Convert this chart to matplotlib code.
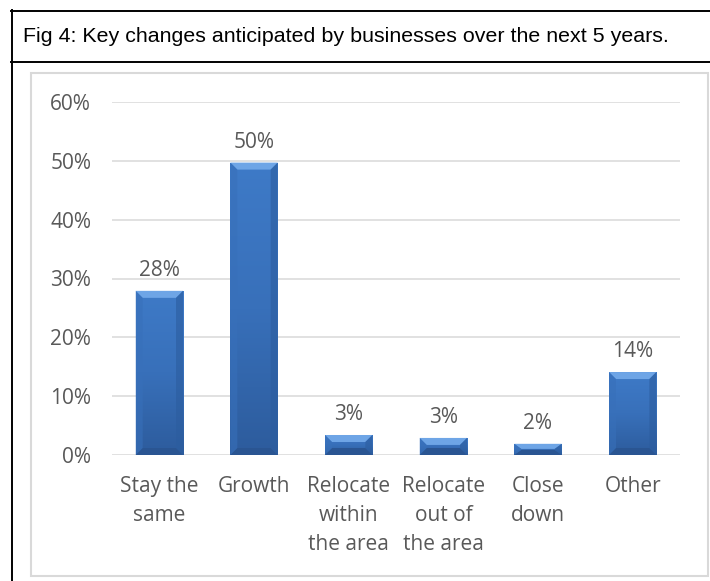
import numpy as np
import matplotlib
matplotlib.use("Agg")
import matplotlib.pyplot as plt
from matplotlib.lines import Line2D
from matplotlib.patches import Rectangle, Polygon

# Survey results: key changes anticipated by businesses over the next 5 years
categories = ["Stay the\nsame", "Growth", "Relocate\nwithin\nthe area",
              "Relocate\nout of\nthe area", "Close\ndown", "Other"]
shares = [0.279, 0.497, 0.034, 0.029, 0.019, 0.141]
y_ticks = [0.0, 0.1, 0.2, 0.3, 0.4, 0.5, 0.6]
title = "Fig 4: Key changes anticipated by businesses over the next 5 years."

W, H = 710, 581
fig = plt.figure(figsize=(W / 100, H / 100), dpi=100)
fig.patch.set_facecolor("white")


def fx(px):
    return px / W


def fy(py):
    return 1 - py / H


# Frame: black outline with a title row, grey chart box inside
black = dict(color="black", lw=1.4, transform=fig.transFigure)
fig.add_artist(Line2D([fx(11.5), fx(11.5)], [fy(10), fy(581)], **black))
fig.add_artist(Line2D([fx(11), fx(710)], [fy(10.5), fy(10.5)], **black))
fig.add_artist(Line2D([fx(11), fx(710)], [fy(62), fy(62)], **black))
fig.add_artist(Rectangle((fx(31), fy(576)), fx(708) - fx(31), fy(73) - fy(576),
                         transform=fig.transFigure, fill=False,
                         edgecolor="#D9D9D9", lw=1.5))
fig.text(fx(23), fy(37), title, family="Liberation Sans", fontsize=15.4,
         color="black", ha="left", va="center")

text_color = "#595959"
font = "Open Sans"
fs = 15

ax = fig.add_axes([fx(112), fy(455), fx(680) - fx(112), fy(102) - fy(455)])
ax.set_facecolor("none")
ax.set_xlim(-0.5, len(categories) - 0.5)
ax.set_ylim(0, 0.6)
for s in ax.spines.values():
    s.set_visible(False)
ax.set_yticks(y_ticks)
ax.set_yticklabels([f"{t:.0%}" for t in y_ticks], family=font, fontsize=fs,
                   color=text_color)
ax.yaxis.grid(True, color="#D9D9D9", lw=1.1)
ax.set_axisbelow(True)
ax.tick_params(axis="y", length=0, pad=15)
x = np.arange(len(categories))
ax.set_xticks(x)
ax.set_xticklabels(categories, family=font, fontsize=fs, color=text_color,
                   linespacing=1.5)
ax.tick_params(axis="x", length=0, pad=15)

bar_w = 0.5
bars = ax.bar(x, shares, width=bar_w, color="#3B74BF", zorder=2)

fig.canvas.draw()
inv = ax.transData.inverted()
o = inv.transform((0, 0))
px_x = inv.transform((1, 0))[0] - o[0]
px_y = inv.transform((0, 1))[1] - o[1]

# vertical shading used for each bar body
grad = np.linspace(0, 1, 64).reshape(-1, 1)
cmap = matplotlib.colors.LinearSegmentedColormap.from_list(
    "bar", ["#2D5C9D", "#3870BA", "#3E7AC7"])

for b, v in zip(bars, shares):
    x0, x1 = b.get_x(), b.get_x() + b.get_width()
    b.set_facecolor("none")
    im = ax.imshow(grad, extent=(x0, x1, 0, v), origin="lower", aspect="auto",
                   cmap=cmap, zorder=2.5, interpolation="bilinear")
    im.set_clip_path(b)
    bev_y = min(7 * px_y, v / 2.2)
    bev_x = 7 * px_x
    # top bevel (light)
    ax.add_patch(Polygon([(x0, v), (x1, v), (x1 - bev_x, v - bev_y),
                          (x0 + bev_x, v - bev_y)], closed=True,
                         facecolor="#6EA5E6", edgecolor="none", zorder=3))
    # bottom bevel (dark)
    ax.add_patch(Polygon([(x0, 0), (x1, 0), (x1 - bev_x, bev_y),
                          (x0 + bev_x, bev_y)], closed=True,
                         facecolor="#2A5592", edgecolor="none", zorder=3))
    # side bevels
    ax.add_patch(Polygon([(x0, 0), (x0 + bev_x, bev_y), (x0 + bev_x, v - bev_y),
                          (x0, v)], closed=True, facecolor="#3870BA",
                         edgecolor="none", alpha=0.6, zorder=3))
    ax.add_patch(Polygon([(x1, 0), (x1 - bev_x, bev_y), (x1 - bev_x, v - bev_y),
                          (x1, v)], closed=True, facecolor="#2C5D9F",
                         edgecolor="none", alpha=0.6, zorder=3))
    ax.annotate(f"{v:.0%}", (b.get_x() + b.get_width() / 2, v),
                xytext=(0, 7), textcoords="offset points", ha="center",
                va="bottom", family=font, fontsize=fs, color=text_color)

ax.set_xlim(-0.5, len(categories) - 0.5)
ax.set_ylim(0, 0.6)
fig.savefig("out.png", dpi=100)
